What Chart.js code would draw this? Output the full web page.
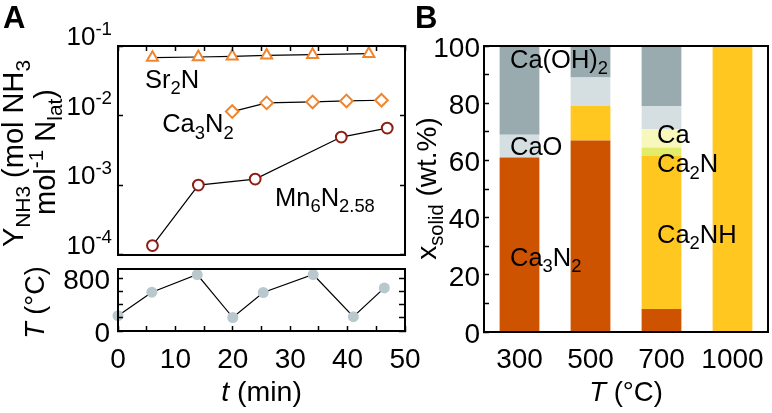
<!DOCTYPE html>
<html><head><meta charset="utf-8">
<script src="https://cdn.jsdelivr.net/npm/chart.js@4"></script>
<style>
html,body{margin:0;padding:0;background:#fff;width:772px;height:413px;overflow:hidden}
canvas{position:absolute}
</style></head><body>
<canvas id="a1" width="430" height="263" style="left:0;top:0"></canvas>
<canvas id="a2" width="430" height="150" style="left:0;top:263px"></canvas>
<canvas id="b" width="372" height="413" style="left:400px;top:0"></canvas>
<script>
// ---------- data ----------
const tSr2N  = [6.0, 14.0, 19.9, 25.9, 33.9, 43.7];
const ySr2N  = [0.068, 0.0695, 0.071, 0.0735, 0.075, 0.0775];
const tCa3N2 = [19.9, 25.9, 33.9, 39.8, 45.9];
const yCa3N2 = [0.0114, 0.0152, 0.0157, 0.0162, 0.0166];
const tMn    = [6.0, 14.0, 23.9, 38.9, 46.9];
const yMn    = [0.000135, 0.0010, 0.00122, 0.0049, 0.0066];
const tTemp  = [0, 5.9, 13.8, 20.0, 25.3, 34.0, 41.0, 46.4];
const temps  = [233, 590, 858, 205, 585, 858, 218, 655];

const tTickValues    = [0, 5, 10, 15, 20, 25, 30, 35, 40, 45, 50];
const yieldDecades   = [1e-4, 1e-3, 1e-2, 1e-1];
const tempTickValues = [0, 200, 400, 600, 800];
const fracTickValues = [0, 10, 20, 30, 40, 50, 60, 70, 80, 90, 100];

const calcTemps = ['300', '500', '700', '1000'];
const phaseNames = ['Ca3N2', 'Ca2NH', 'Ca2N', 'Ca', 'CaO', 'Ca(OH)2'];
const wCa3N2 = [61, 67, 8, 0];
const wCa2NH = [0, 12, 53.5, 100];
const wCa2N  = [0, 0, 3, 0];
const wCa    = [0, 0, 6.5, 0];
const wCaO   = [8, 10, 8, 0];
const wCaOH2 = [31, 11, 21, 0];

// ---------- styles ----------
const FONT = "'Liberation Sans', Arial, Helvetica, sans-serif";
const ORANGE = '#EF862F', MNRED = '#8E1D14', TEMPGREY = '#B8C8CC';
const phaseColors = ['#CE5300', '#FFC71F', '#E3EB6A', '#F8F8BC', '#D5DFE1', '#9AABAF'];
const TICK_SIZE = 28;

Chart.defaults.font.family = FONT;
Chart.defaults.color = '#000';

// ---------- rich text helpers ----------
function fontFor(s, size) {
  const sc = (s[1] === 'sub' || s[1] === 'sup') ? 0.72 : 1;
  return (s[2] ? 'italic ' : '') + (s[3] ? 'bold ' : '') + (size * sc).toFixed(1) + 'px ' + FONT;
}
function richWidth(ctx, segs, size) {
  let w = 0;
  for (const s of segs) { ctx.font = fontFor(s, size); w += ctx.measureText(s[0]).width; }
  return w;
}
function drawRich(ctx, segs, x, y, size, align) {
  const w = richWidth(ctx, segs, size);
  let cx = align === 'center' ? x - w / 2 : align === 'right' ? x - w : x;
  ctx.textBaseline = 'alphabetic'; ctx.textAlign = 'left'; ctx.fillStyle = '#000';
  for (const s of segs) {
    ctx.font = fontFor(s, size);
    const dy = s[1] === 'sub' ? size * 0.25 : s[1] === 'sup' ? -size * 0.4 : 0;
    ctx.fillText(s[0], cx, y + dy);
    cx += ctx.measureText(s[0]).width;
  }
}
function drawRichRot(ctx, segs, x, y, size) {
  ctx.save(); ctx.translate(x, y); ctx.rotate(-Math.PI / 2);
  drawRich(ctx, segs, 0, 0, size, 'center');
  ctx.restore();
}

// ---------- axis helpers ----------
const border = {display: true, color: '#000', width: 2, z: 1};
const inward = len => ({display: true, drawOnChartArea: false, drawTicks: true, tickLength: -len,
  tickColor: '#000', tickWidth: 1.5, z: 1});
const noGrid = {display: false, drawTicks: false};
const setTicks = vals => s => { s.ticks = vals.map(v => ({value: v})); };
const fixSize = (w, h) => s => {
  if (w !== null) s.width = w;
  if (h !== null) s.height = h;
  s.paddingLeft = 0; s.paddingRight = 0; s.paddingTop = 0; s.paddingBottom = 0;
};
const baseOpts = {responsive: false, animation: false, events: [],
  plugins: {legend: {display: false}, tooltip: {enabled: false}}, layout: {padding: 0}};

const pts = (xs, ys) => xs.map((x, i) => ({x: x, y: ys[i]}));

// ---------- Panel A, top (log) ----------
const a1Labels = [
  {segs: [['Sr'], ['2', 'sub'], ['N']], x: 4.7, y: 0.0248},
  {segs: [['Ca'], ['3', 'sub'], ['N'], ['2', 'sub']], x: 7.7, y: 0.00577},
  {segs: [['Mn'], ['6', 'sub'], ['N'], ['2.58', 'sub']], x: 27.35, y: 0.000506}
];
const a1Plugin = {
  id: 'a1Text',
  afterDraw(chart) {
    const ctx = chart.ctx, xs = chart.scales.x, ys = chart.scales.y;
    ctx.save();
    drawRich(ctx, [['A', 'n', false, true]], 3, 28, 31, 'left');
    for (const v of yieldDecades) {
      const py = ys.getPixelForValue(v);
      drawRich(ctx, [['10'], [String(Math.round(Math.log10(v))), 'sup']], ys.right - 6, py - 1, 26, 'right');
    }
    drawRichRot(ctx, [['Y'], ['NH3', 'sub'], [' (mol NH'], ['3', 'sub']], 23, 153.5, 29);
    drawRichRot(ctx, [['mol'], ['-1', 'sup'], [' N'], ['lat', 'sub'], [')']], 55, 152, 29);
    for (const L of a1Labels) drawRich(ctx, L.segs, xs.getPixelForValue(L.x), ys.getPixelForValue(L.y), 25.5, 'left');
    ctx.restore();
  }
};
new Chart(document.getElementById('a1'), {
  type: 'scatter',
  data: {datasets: [
    {data: pts(tSr2N, ySr2N), showLine: true, borderColor: '#000', borderWidth: 1.2,
     pointStyle: 'triangle', pointRadius: 6.4, pointBorderColor: ORANGE, pointBackgroundColor: '#fff',
     pointBorderWidth: 2, clip: false},
    {data: pts(tCa3N2, yCa3N2), showLine: true, borderColor: '#000', borderWidth: 1.2,
     pointStyle: 'rectRot', pointRadius: 6.3, pointBorderColor: ORANGE, pointBackgroundColor: '#fff',
     pointBorderWidth: 2, clip: false},
    {data: pts(tMn, yMn), showLine: true, borderColor: '#000', borderWidth: 1.2,
     pointStyle: 'circle', pointRadius: 5.4, pointBorderColor: MNRED, pointBackgroundColor: '#fff',
     pointBorderWidth: 2, clip: false}
  ]},
  options: Object.assign({}, baseOpts, {
    scales: {
      x: {type: 'linear', position: 'bottom', min: 0, max: 50, ticks: {display: false}, grid: noGrid,
          border: border, afterFit: fixSize(null, 3)},
      xt: {type: 'linear', position: 'top', min: 0, max: 50, afterBuildTicks: setTicks(tTickValues),
           ticks: {display: false}, grid: inward(5), border: border, afterFit: fixSize(null, 46)},
      y: {type: 'logarithmic', position: 'left', min: 1e-4, max: 1e-1, afterBuildTicks: setTicks(yieldDecades),
          ticks: {display: false}, grid: inward(5), border: border, afterFit: fixSize(118, null)},
      yr: {type: 'logarithmic', position: 'right', min: 1e-4, max: 1e-1, afterBuildTicks: setTicks(yieldDecades),
           ticks: {display: false}, grid: inward(5), border: border, afterFit: fixSize(25, null)}
    }
  }),
  plugins: [a1Plugin]
});

// ---------- Panel A, bottom (temperature) ----------
const a2Plugin = {
  id: 'a2Text',
  afterDraw(chart) {
    const ctx = chart.ctx, ca = chart.chartArea;
    ctx.save();
    drawRich(ctx, [['t', 'n', true], [' (min)']], (ca.left + ca.right) / 2, 138, 28.5, 'center');
    drawRichRot(ctx, [['T', 'n', true], [' (°C)']], 44, 39.5, 27);
    ctx.restore();
  }
};
new Chart(document.getElementById('a2'), {
  type: 'scatter',
  data: {datasets: [
    {data: pts(tTemp, temps), showLine: true, borderColor: '#000', borderWidth: 1.2,
     pointStyle: 'circle', pointRadius: 5.5, pointBorderWidth: 0, pointBackgroundColor: TEMPGREY,
     pointBorderColor: TEMPGREY, clip: false}
  ]},
  options: Object.assign({}, baseOpts, {
    scales: {
      x: {type: 'linear', position: 'bottom', min: 0, max: 50, afterBuildTicks: setTicks(tTickValues),
          ticks: {autoSkip: false, maxRotation: 0, padding: 17, font: {size: TICK_SIZE},
                  callback: v => (v % 10 === 0 ? String(v) : '')},
          grid: inward(5), border: border, afterFit: fixSize(null, 82)},
      xt: {type: 'linear', position: 'top', min: 0, max: 50, ticks: {display: false}, grid: noGrid,
           border: border, afterFit: fixSize(null, 2)},
      y: {type: 'linear', position: 'left', min: 0, max: 950, afterBuildTicks: setTicks(tempTickValues),
          ticks: {autoSkip: false, padding: 13, labelOffset: 3, font: {size: TICK_SIZE},
                  callback: v => (v === 0 || v === 800 ? String(v) : '')},
          grid: inward(5), border: border, afterFit: fixSize(118, null)},
      yr: {type: 'linear', position: 'right', min: 0, max: 950, afterBuildTicks: setTicks(tempTickValues),
           ticks: {display: false}, grid: inward(6), border: border, afterFit: fixSize(25, null)}
    }
  }),
  plugins: [a2Plugin]
});

// ---------- Panel B (stacked bars) ----------
const bLabels = [
  {segs: [['Ca(OH)'], ['2', 'sub']], x: -0.134, y: 92.3},
  {segs: [['CaO']], x: -0.134, y: 61.9},
  {segs: [['Ca'], ['3', 'sub'], ['N'], ['2', 'sub']], x: -0.134, y: 23.1},
  {segs: [['Ca']], x: 1.937, y: 66.1},
  {segs: [['Ca'], ['2', 'sub'], ['N']], x: 1.937, y: 55.9},
  {segs: [['Ca'], ['2', 'sub'], ['NH']], x: 1.937, y: 31.1}
];
const bPlugin = {
  id: 'bText',
  afterDraw(chart) {
    const ctx = chart.ctx, ca = chart.chartArea, xs = chart.scales.x, ys = chart.scales.y;
    ctx.save();
    drawRich(ctx, [['B', 'n', false, true]], 15, 28, 31, 'left');
    drawRich(ctx, [['T', 'n', true], [' (°C)']], (ca.left + ca.right) / 2, 401, 27.5, 'center');
    drawRichRot(ctx, [['x'], ['solid', 'sub'], [' (wt.%)']], 36, 188.5, 28);
    for (const L of bLabels) drawRich(ctx, L.segs, xs.getPixelForValue(L.x), ys.getPixelForValue(L.y), 25.5, 'left');
    ctx.restore();
  }
};
const phaseValues = [wCa3N2, wCa2NH, wCa2N, wCa, wCaO, wCaOH2];
new Chart(document.getElementById('b'), {
  type: 'bar',
  data: {
    labels: calcTemps,
    datasets: phaseNames.map((n, i) => ({label: n, data: phaseValues[i], backgroundColor: phaseColors[i],
      borderWidth: 0, barPercentage: 0.56, categoryPercentage: 1}))
  },
  options: Object.assign({}, baseOpts, {
    scales: {
      x: {type: 'category', position: 'bottom', stacked: true,
          ticks: {autoSkip: false, maxRotation: 0, padding: 11, font: {size: TICK_SIZE}},
          grid: noGrid, border: border, afterFit: fixSize(null, 81)},
      xt: {type: 'linear', position: 'top', min: 0, max: 1, ticks: {display: false}, grid: noGrid,
           border: border, afterFit: fixSize(null, 46)},
      y: {type: 'linear', position: 'left', stacked: true, min: 0, max: 100,
          afterBuildTicks: setTicks(fracTickValues),
          ticks: {autoSkip: false, padding: 9, labelOffset: 3, font: {size: TICK_SIZE},
                  callback: v => (v % 20 === 0 ? String(v) : '')},
          grid: inward(5), border: border, afterFit: fixSize(84, null)},
      yr: {type: 'linear', position: 'right', min: 0, max: 100, ticks: {display: false}, grid: noGrid,
           border: border, afterFit: fixSize(4, null)}
    }
  }),
  plugins: [bPlugin]
});
</script>
</body></html>
